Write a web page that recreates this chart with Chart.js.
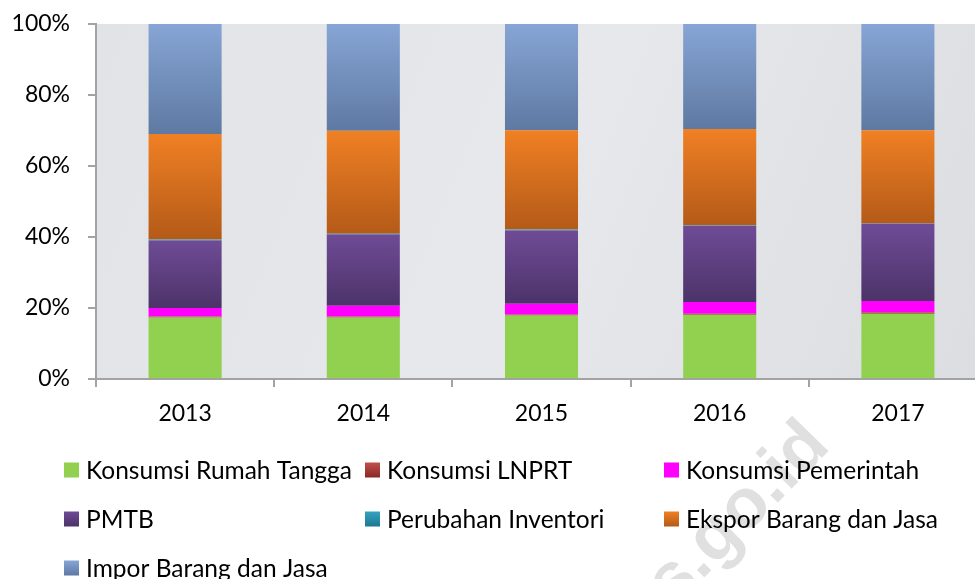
<!DOCTYPE html>
<html><head><meta charset="utf-8">
<script src="https://cdn.jsdelivr.net/npm/chart.js@4/dist/chart.umd.min.js"></script>
<style>
html,body{margin:0;padding:0;background:#fff;overflow:hidden;width:975px;height:579px}
#wrap{width:987px;height:579px;position:relative}
canvas{display:block}
</style></head><body>
<div id="wrap"><canvas id="c" width="987" height="579"></canvas></div>
<script>
// ---- data (percent share) ----
const years = ['2013','2014','2015','2016','2017'];
const seriesNames = ['Konsumsi Rumah Tangga','Konsumsi LNPRT','Konsumsi Pemerintah','PMTB','Perubahan Inventori','Ekspor Barang dan Jasa','Impor Barang dan Jasa'];
const konsumsiRumahTangga = [17.3, 17.3, 17.9, 18.1, 18.4];
const konsumsiLNPRT       = [0.3, 0.3, 0.3, 0.3, 0.4];
const konsumsiPemerintah  = [2.4, 3.0, 3.0, 3.3, 3.2];
const pmtb                = [19.0, 20.1, 20.6, 21.5, 21.7];
const perubahanInventori  = [0.3, 0.2, 0.3, 0.1, 0.1];
const eksporBarangJasa    = [29.7, 29.0, 28.0, 27.1, 26.3];
const imporBarangJasa     = [31.0, 30.1, 29.9, 29.6, 29.9];
const yTickValues = [0, 20, 40, 60, 80, 100];
const watermarkText = 'bps.go.id';

const seriesData = [konsumsiRumahTangga, konsumsiLNPRT, konsumsiPemerintah, pmtb, perubahanInventori, eksporBarangJasa, imporBarangJasa];

// ---- styles ----
const seriesColors = [
  ['#92D050','#92D050'],
  ['#C0504D','#8A2826'],
  ['#FF00FF','#FF00FF'],
  ['#6F4B96','#4C3369'],
  ['#33A3C1','#1E7790'],
  ['#F08024','#B45A18'],
  ['#87A5D5','#5E79A2']
];
const FONT = {family: 'Lato, "Liberation Sans", sans-serif', size: 23};
const LEGEND_FONT_SIZE = 24.5;

function segGradient(ctx, i) {
  const c = seriesColors[i];
  if (c[0] === c[1]) return c[0];
  const chart = ctx.chart;
  const ys = chart.scales && chart.scales.y;
  if (ctx.type !== 'data' || !ys || !chart.chartArea) return c[0];
  let lo = 0;
  for (let k = 0; k < i; k++) lo += seriesData[k][ctx.dataIndex];
  const hi = lo + seriesData[i][ctx.dataIndex];
  const y0 = ys.getPixelForValue(hi), y1 = ys.getPixelForValue(lo);
  if (!isFinite(y0) || !isFinite(y1) || Math.abs(y1 - y0) < 0.5) return c[0];
  const g = chart.ctx.createLinearGradient(0, y0, 0, y1);
  g.addColorStop(0, c[0]); g.addColorStop(1, c[1]);
  return g;
}

const backgroundPlugin = {
  id: 'bg',
  beforeDraw(chart) {
    const {ctx, chartArea: a} = chart;
    ctx.save();
    ctx.fillStyle = '#ffffff';
    ctx.fillRect(0, 0, chart.width, chart.height);
    // watermark
    ctx.translate(600, 656);
    ctx.rotate(-45.5 * Math.PI / 180);
    ctx.fillStyle = '#e0e0e0';
    ctx.font = 'bold 70px "Liberation Sans", Arial, sans-serif';
    ctx.textBaseline = 'middle';
    ctx.fillText(watermarkText, 0, 0);
    ctx.restore();
    // plot area (marble-like light grey)
    ctx.save();
    const g = ctx.createLinearGradient(a.left, a.top, a.right, a.bottom);
    g.addColorStop(0, '#e2e3e6');
    g.addColorStop(0.5, '#e7e8eb');
    g.addColorStop(1, '#dcdde0');
    ctx.fillStyle = g;
    ctx.fillRect(a.left, a.top, a.right - a.left, a.bottom - a.top);
    ctx.restore();
  }
};

const gridLegendPlugin = {
  id: 'gridLegend',
  afterDraw(chart) {
    const ctx = chart.ctx;
    const colX = [64, 365, 664];
    const rowY = [470, 519, 568];
    const box = 15;
    ctx.save();
    ctx.font = LEGEND_FONT_SIZE + 'px ' + FONT.family;
    ctx.textBaseline = 'middle';
    chart.data.datasets.forEach((ds, i) => {
      const x = colX[i % 3], y = rowY[Math.floor(i / 3)];
      const c = seriesColors[i];
      const g = ctx.createLinearGradient(0, y - box / 2, 0, y + box / 2);
      g.addColorStop(0, c[0]); g.addColorStop(1, c[1]);
      ctx.fillStyle = g;
      ctx.fillRect(x, y - box / 2, box, box);
      ctx.fillStyle = '#000';
      ctx.fillText(ds.label, x + box + 7, y + 1);
    });
    ctx.restore();
  }
};

new Chart(document.getElementById('c'), {
  type: 'bar',
  data: {
    labels: years,
    datasets: seriesData.map((arr, i) => ({
      label: seriesNames[i],
      data: arr,
      backgroundColor: (ctx) => segGradient(ctx, i),
      borderWidth: 0,
      barPercentage: 1,
      categoryPercentage: 0.41
    }))
  },
  options: {
    responsive: false,
    devicePixelRatio: 1,
    animation: false,
    layout: {padding: {left: 12, top: 24, right: 0, bottom: 150}},
    plugins: {legend: {display: false}, tooltip: {enabled: false}},
    scales: {
      x: {
        stacked: true,
        afterFit: (scale) => { scale.height = 50; scale.paddingLeft = 0; scale.paddingRight = 0; },
        grid: {display: true, drawOnChartArea: false, drawTicks: true, tickLength: 8, color: '#a3a3a3', lineWidth: 2},
        border: {display: true, color: '#a3a3a3', width: 2},
        ticks: {color: '#000', font: FONT, padding: 13}
      },
      y: {
        stacked: true,
        min: 0, max: 100,
        afterBuildTicks: (scale) => { scale.ticks = yTickValues.map(v => ({value: v})); },
        afterFit: (scale) => { scale.width = 84; scale.paddingTop = 0; scale.paddingBottom = 0; },
        grid: {display: true, drawOnChartArea: false, drawTicks: true, tickLength: 8, color: '#a3a3a3', lineWidth: 2},
        border: {display: true, color: '#a3a3a3', width: 2},
        ticks: {color: '#000', font: FONT, padding: 18, callback: (v) => v + '%'}
      }
    }
  },
  plugins: [backgroundPlugin, gridLegendPlugin]
});
</script>
</body></html>
